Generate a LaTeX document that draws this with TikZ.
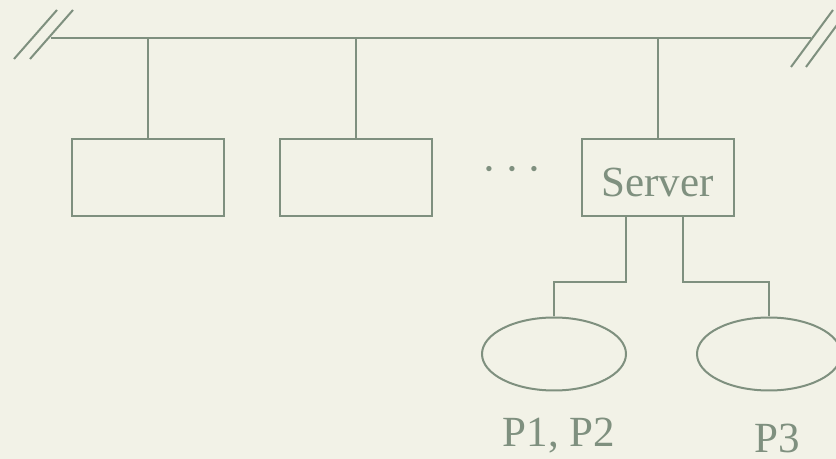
\documentclass[tikz,border=0pt]{standalone}
\usepackage{fontspec}
\setmainfont{Liberation Serif}
\usetikzlibrary{shapes.geometric,positioning}
\definecolor{netline}{HTML}{7F907F}
\definecolor{netback}{HTML}{F2F2E7}

\begin{document}
\begin{tikzpicture}[x=0.5pt,y=-0.5pt,line width=1pt,netline,
  host/.style={draw,rectangle,minimum width=76pt,minimum height=38.5pt,inner sep=0pt},
  disk/.style={draw,ellipse,minimum width=72pt,minimum height=36.5pt,inner sep=0pt},
  lbl/.style={font=\fontsize{21.5}{21.5}\selectfont,text=netline}]

  \fill[netback] (0,0) rectangle (836,459);
  \useasboundingbox (0,0) rectangle (836,459);

  % the bus
  \coordinate (lbus) at (51,38);
  \coordinate (rbus) at (811,38);
  \draw (lbus) -- (rbus);
  \draw ([shift={(-37,21)}]lbus) -- ++(43,-49);
  \draw ([shift={(-21,21)}]lbus) -- ++(43,-49);
  \draw ([shift={(-20,29)}]rbus) -- ++(42,-57);
  \draw ([shift={(-5,29)}]rbus) -- ++(42,-57);

  % hosts on the bus
  \node[host]   (h1)  at (148,177.5) {};
  \node[host]   (h2)  at (356,177.5) {};
  \node[host,lbl,text height=19pt,text depth=0pt] (srv) at (657.5,178) {Server};
  \node[font=\fontsize{23}{23}\selectfont] (dots) at (512,170) {$\cdots$};

  \draw (h1.north) -- (h1.north |- lbus);
  \draw (h2.north) -- (h2.north |- lbus);
  \draw (srv.north) -- (srv.north |- lbus);

  % disks of the server
  \node[disk]   (d1)  at (554,354) {};
  \node[disk]   (d2)  at (769,354) {};
  \node[lbl,anchor=base] (p12) at (559,447) {P1, P2};
  \node[lbl,anchor=base] (p3)  at (777,453) {P3};

  \draw ([xshift=-15.75pt]srv.south) -- ++(0,65) -| (d1.north);
  \draw ([xshift=12.75pt]srv.south) -- ++(0,65) -| (d2.north);
\end{tikzpicture}
\end{document}
